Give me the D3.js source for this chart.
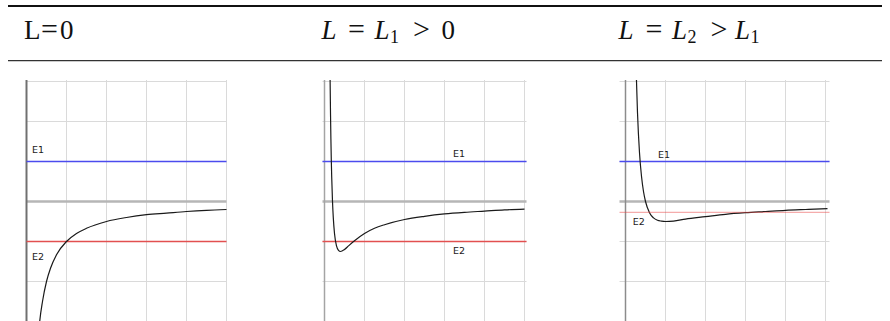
<!DOCTYPE html>
<html>
<head>
<meta charset="utf-8">
<script src="https://cdn.jsdelivr.net/npm/d3@7"></script>
<style>
  body { margin: 0; background: #fff; }
  svg { display: block; }
</style>
</head>
<body>
<svg id="chart" width="890" height="321"></svg>
<script>
// ---- data ----------------------------------------------------------------
// grid ticks (radius r along x, potential V along y)
const rTicks = [0, 1, 2, 3, 4, 5];
const vTicks = [-3, -2, -1, 0, 1, 2, 3];

// total energy levels drawn in each panel
const energyE1 = [1, 1, 1];
const energyE2 = [-1, -1, -0.27];
const levelNames = ["E1", "E2"];

// effective potential samples [r, V] for each angular momentum
const curveL0 = [
  [0.30, -3.33], [0.33, -3.00], [0.40, -2.50], [0.50, -2.00], [0.60, -1.67],
  [0.75, -1.33], [1.00, -1.00], [1.25, -0.80], [1.50, -0.67], [2.00, -0.50],
  [2.50, -0.40], [3.00, -0.33], [3.50, -0.29], [4.00, -0.25], [4.50, -0.22],
  [5.00, -0.20]
];
const curveL1 = [
  [0.14, 3.06], [0.15, 2.22], [0.16, 1.56], [0.17, 1.04], [0.18, 0.62],
  [0.20, 0.00], [0.22, -0.41], [0.25, -0.80], [0.30, -1.11], [0.35, -1.22],
  [0.40, -1.25], [0.50, -1.20], [0.60, -1.11], [0.75, -0.98], [1.00, -0.80],
  [1.25, -0.67], [1.50, -0.58], [2.00, -0.45], [2.50, -0.37], [3.00, -0.31],
  [3.50, -0.27], [4.00, -0.24], [4.50, -0.21], [5.00, -0.19]
];
const curveL2 = [
  [0.27, 3.16], [0.30, 2.22], [0.35, 1.22], [0.40, 0.63], [0.45, 0.25],
  [0.50, 0.00], [0.60, -0.28], [0.70, -0.41], [0.80, -0.47], [0.90, -0.49],
  [1.00, -0.50], [1.20, -0.49], [1.50, -0.44], [2.00, -0.38], [2.50, -0.32],
  [3.00, -0.28], [3.50, -0.25], [4.00, -0.22], [4.50, -0.20], [5.05, -0.18]
];
const curves = [curveL0, curveL1, curveL2];

// ---- layout ----------------------------------------------------------------
const svg = d3.select("#chart");
const panelLeft = [26.5, 324.5, 625.5];
const panelWidth = 200;
const plotTop = 81.5, plotBottom = 321.5;
const hLeftExt = [0, 2, 6], hRightExt = [0, 2, 4];
const axisStyle = [
  { color: "#707070", width: 2 },
  { color: "#a4a4a4", width: 1.5 },
  { color: "#8c8c8c", width: 1.5 }
];
const e2Style = [
  { color: "#e25050", opacity: 1 },
  { color: "#e25050", opacity: 1 },
  { color: "#e84848", opacity: 0.45 }
];
// label placement: r position and baseline offset from its line
const labelPos = [
  [{ r: 0.14, dy: -8.8 }, { r: 0.14, dy: 18.5 }],
  [{ r: 3.21, dy: -4.8 }, { r: 3.21, dy: 12.8 }],
  [{ r: 0.81, dy: -3.2 }, { r: 0.18, dy: 12.7 }]
];

// ---- table header rules -------------------------------------------------------
svg.append("line").attr("x1", 8).attr("x2", 882).attr("y1", 6).attr("y2", 6)
  .attr("stroke", "#111").attr("stroke-width", 2);
svg.append("line").attr("x1", 8).attr("x2", 882).attr("y1", 60.6).attr("y2", 60.6)
  .attr("stroke", "#333").attr("stroke-width", 1.1);

// header cells, built from glyph runs: [text, x (null = follow previous), kind]
// kind: "rm" roman, "it" italic, "op" relation symbol, "sub" subscript
const headerRuns = [
  [["L", 24, "rm"], ["=", 41, "op"], ["0", 60, "rm"]],
  [["L", 321.5, "it"], ["=", 348, "op"], ["L", 374.5, "it"],
   ["1", null, "sub"], [">", 413, "op"], ["0", 441.5, "rm"]],
  [["L", 618.5, "it"], ["=", 645.5, "op"], ["L", 672, "it"],
   ["2", null, "sub"], [">", 710.5, "op"], ["L", 735, "it"],
   ["1", null, "sub"]]
];
const runSize = { rm: 27, it: 27, op: 30, sub: 18 };
headerRuns.forEach(runs => {
  const t = svg.append("text")
    .attr("font-family", "'Liberation Serif', 'DejaVu Serif', serif")
    .attr("fill", "#111");
  runs.forEach(([s, x, kind]) => {
    const ts = t.append("tspan")
      .attr("y", kind === "sub" ? 42.5 : 39)
      .attr("font-size", runSize[kind])
      .attr("font-style", kind === "it" ? "italic" : "normal")
      .text(s);
    if (x !== null) ts.attr("x", x);
    else ts.attr("dx", 0.5);
  });
});

// ---- panels -------------------------------------------------------------------
curves.forEach((pts, i) => {
  const x0 = panelLeft[i];
  const x = d3.scaleLinear().domain([0, 5]).range([x0, x0 + panelWidth]);
  const y = d3.scaleLinear().domain([-3, 3]).range([plotBottom, plotTop]);
  const g = svg.append("g");

  const clipId = "clip" + i;
  g.append("clipPath").attr("id", clipId).append("rect")
    .attr("x", x0 - 8).attr("y", 80).attr("width", panelWidth + 14).attr("height", 242);

  const hx1 = x0 - hLeftExt[i], hx2 = x0 + panelWidth + hRightExt[i];

  // grid
  g.selectAll(".vg").data(rTicks.filter(d => d > 0)).join("line")
    .attr("x1", d => x(d)).attr("x2", d => x(d))
    .attr("y1", 80).attr("y2", 321)
    .attr("stroke", "#dadada").attr("stroke-width", 1);
  g.selectAll(".hg").data(vTicks.filter(d => d !== 0)).join("line")
    .attr("x1", hx1).attr("x2", hx2)
    .attr("y1", d => y(d)).attr("y2", d => y(d))
    .attr("stroke", "#dadada").attr("stroke-width", 1);

  // axes
  g.append("line").attr("x1", hx1).attr("x2", hx2)
    .attr("y1", y(0)).attr("y2", y(0))
    .attr("stroke", "#b6b6b6").attr("stroke-width", 2.5);
  g.append("line").attr("x1", x(0)).attr("x2", x(0))
    .attr("y1", 80).attr("y2", 321)
    .attr("stroke", axisStyle[i].color).attr("stroke-width", axisStyle[i].width);

  // energy E1
  g.append("line").attr("x1", hx1).attr("x2", hx2)
    .attr("y1", y(energyE1[i])).attr("y2", y(energyE1[i]))
    .attr("stroke", "#4b4bee").attr("stroke-width", 1.3);

  const line = d3.line().x(d => x(d[0])).y(d => y(d[1])).curve(d3.curveMonotoneX);

  const drawE2 = () => g.append("line").attr("x1", hx1).attr("x2", hx2)
    .attr("y1", y(energyE2[i])).attr("y2", y(energyE2[i]))
    .attr("stroke", e2Style[i].color).attr("stroke-opacity", e2Style[i].opacity)
    .attr("stroke-width", 1.3);

  if (i < 2) drawE2();

  g.append("path").datum(pts)
    .attr("clip-path", `url(#${clipId})`)
    .attr("d", line)
    .attr("fill", "none").attr("stroke", "#1a1a1a").attr("stroke-width", 1.2);

  if (i === 2) drawE2();

  // level labels
  [energyE1[i], energyE2[i]].forEach((e, k) => {
    g.append("text")
      .attr("x", x(labelPos[i][k].r))
      .attr("y", y(e) + labelPos[i][k].dy)
      .attr("font-family", "'DejaVu Sans', 'Liberation Sans', sans-serif")
      .attr("font-size", 9.5)
      .attr("fill", "#1a1a1a")
      .text(levelNames[k]);
  });
});
</script>
</body>
</html>
